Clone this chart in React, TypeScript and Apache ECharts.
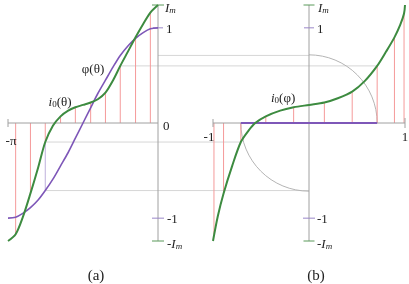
import React, { useEffect, useRef } from 'react';
import * as echarts from 'echarts';

// ---- data ----
const IM = 1.24;
// panel (a): theta samples, phi(theta) and i0(theta)
const THETA = [-3.14, -2.98, -2.83, -2.67, -2.51, -2.36, -2.2, -2.04, -1.88, -1.73, -1.57, -1.41, -1.26, -1.1, -0.94, -0.79, -0.63, -0.47, -0.31, -0.16, 0];
const PHI_OF_THETA = [-1, -0.99, -0.95, -0.89, -0.81, -0.71, -0.59, -0.45, -0.31, -0.16, 0, 0.16, 0.31, 0.45, 0.59, 0.71, 0.81, 0.89, 0.95, 0.99, 1];
const I0_OF_THETA = [-1.24, -1.17, -0.99, -0.74, -0.47, -0.2, -0.03, 0.07, 0.13, 0.165, 0.19, 0.215, 0.25, 0.32, 0.45, 0.6, 0.75, 0.9, 1.04, 1.16, 1.24];
// panel (b): i0(phi)
const PHI_B = [-1, -0.95, -0.89, -0.8, -0.71, -0.63, -0.56, -0.45, -0.3, -0.16, 0, 0.16, 0.3, 0.45, 0.58, 0.71, 0.8, 0.89, 0.95, 0.99, 1];
const I0_B = [-1.24, -0.98, -0.74, -0.45, -0.2, -0.08, 0, 0.07, 0.13, 0.165, 0.19, 0.215, 0.26, 0.33, 0.44, 0.6, 0.745, 0.9, 1.03, 1.15, 1.24];
// red stems
const THETA_STEMS = [-2.98, -2.67, -2.36, -2.04, -1.73, -1.41, -1.1, -0.79, -0.47, -0.16];
const PHI_STEMS = [-0.99, -0.89, -0.71, -0.45, -0.16, 0.16, 0.45, 0.71, 0.89, 0.99];
const I0_STEMS = [-1.17, -0.74, -0.2, 0.07, 0.165, 0.215, 0.32, 0.6, 0.9, 1.16];
// purple flat segment in (b)
const PHI_FLAT = [-0.71, 0.71];
const FLAT_VALUE = [0, 0];
// construction indices (stems used for the graphic construction)
const LOW_IDX = 2;
const HIGH_IDX = 7;

const GREEN = '#3d8b40';
const PURPLE = '#7e57b8';
const RED = '#f59a9a';
const AXIS = '#a0a0a0';
const GUIDE = '#d6d6d6';
const ARC = '#b4b4b4';
const TICK_PURPLE = '#9a86c8';
const TICK_GREEN = '#5a9a5a';
const LIGHT_PURPLE = '#bfb0dc';
const FONT = 'Liberation Serif';
const TXT = '#222';

export default function App() {
  const ref = useRef<HTMLDivElement>(null);
  useEffect(() => {
    const chart = echarts.init(ref.current!, null, { renderer: 'svg' });
    const stem = (idx: number, xs: number[], ys: number[]) => ({
      type: 'custom',
      xAxisIndex: idx,
      yAxisIndex: idx,
      z: 1,
      silent: true,
      data: xs.map((x, i) => [x, ys[i]]),
      renderItem: (_p: any, api: any) => {
        const a = api.coord([api.value(0), 0]);
        const b = api.coord([api.value(0), api.value(1)]);
        return {
          type: 'line',
          shape: { x1: a[0], y1: a[1], x2: b[0], y2: b[1] },
          style: { stroke: RED, lineWidth: 1 },
        };
      },
    });
    const line = (idx: number, xs: number[], ys: number[], color: string, w: number, smooth: number) => ({
      type: 'line',
      xAxisIndex: idx,
      yAxisIndex: idx,
      z: 3,
      silent: true,
      showSymbol: false,
      smooth,
      data: xs.map((x, i) => [x, ys[i]]),
      lineStyle: { color, width: w },
    });
    chart.setOption({
      animation: false,
      grid: [
        { left: 8, top: 5, width: 150, height: 236 },
        { left: 213, top: 5, width: 192, height: 236 },
      ],
      xAxis: [
        { type: 'value', gridIndex: 0, min: -3.14, max: 0, show: false },
        { type: 'value', gridIndex: 1, min: -1, max: 1, show: false },
      ],
      yAxis: [
        { type: 'value', gridIndex: 0, min: -IM, max: IM, show: false },
        { type: 'value', gridIndex: 1, min: -IM, max: IM, show: false },
      ],
      series: [
        stem(0, THETA_STEMS, I0_STEMS),
        stem(1, PHI_STEMS, I0_STEMS),
        line(0, THETA, PHI_OF_THETA, PURPLE, 1.6, 0.3),
        line(0, THETA, I0_OF_THETA, GREEN, 2, 0.3),
        line(1, PHI_FLAT, FLAT_VALUE, PURPLE, 2, 0),
        line(1, PHI_B, I0_B, GREEN, 2, 0.3),
      ],
    });

    const pA = (x: number, y: number) => chart.convertToPixel({ xAxisIndex: 0, yAxisIndex: 0 }, [x, y]) as number[];
    const pB = (x: number, y: number) => chart.convertToPixel({ xAxisIndex: 1, yAxisIndex: 1 }, [x, y]) as number[];
    const seg = (a: number[], b: number[], stroke: string, lineWidth = 1, z = 0) => ({
      type: 'line',
      z,
      silent: true,
      shape: { x1: a[0], y1: a[1], x2: b[0], y2: b[1] },
      style: { stroke, lineWidth },
    });
    const hTick = (p: number[], half: number, stroke: string) => seg([p[0] - half, p[1]], [p[0] + half, p[1]], stroke, 1, 1);
    const vTick = (p: number[], half: number) => seg([p[0], p[1] - half], [p[0], p[1] + half], AXIS, 1, 1);
    const rich = {
      it: { fontFamily: FONT, fontStyle: 'italic', fontSize: 13, fill: TXT, color: TXT },
      sub: { fontFamily: FONT, fontStyle: 'italic', fontSize: 9, fill: TXT, color: TXT, verticalAlign: 'bottom', padding: [5, 0, 0, 0] },
      subr: { fontFamily: FONT, fontSize: 9, fill: TXT, color: TXT, verticalAlign: 'bottom', padding: [5, 0, 0, 0] },
      n: { fontFamily: FONT, fontSize: 13, fill: TXT, color: TXT },
      c: { fontFamily: FONT, fontSize: 15, fill: TXT, color: TXT },
    };
    const text = (p: number[], t: string, align: string) => ({
      type: 'text',
      z: 10,
      silent: true,
      x: p[0],
      y: p[1],
      style: {
        text: t,
        rich,
        font: `13px "${FONT}"`,
        fill: TXT,
        textAlign: align,
        align,
        textVerticalAlign: 'middle',
        verticalAlign: 'middle',
      },
    });
    const off = (p: number[], dx: number, dy: number) => [p[0] + dx, p[1] + dy];

    const o = pB(0, 0);
    const r = pB(PHI_STEMS[HIGH_IDX], 0)[0] - o[0];
    const thLow = THETA_STEMS[LOW_IDX];
    const thHigh = THETA_STEMS[HIGH_IDX];
    const phiHi = PHI_OF_THETA[15];
    const phiLo = PHI_OF_THETA[5];

    const g: any[] = [
      // construction guides
      seg(pA(0, phiHi), pB(0, phiHi), GUIDE),
      seg(pA(thHigh, I0_STEMS[HIGH_IDX]), pB(PHI_STEMS[HIGH_IDX], I0_STEMS[HIGH_IDX]), GUIDE),
      seg(pA(thLow, phiLo), pB(0, phiLo), GUIDE),
      seg(pA(thLow, I0_STEMS[LOW_IDX]), pB(PHI_STEMS[LOW_IDX], I0_STEMS[LOW_IDX]), GUIDE),
      seg(pA(thLow, I0_STEMS[LOW_IDX]), pA(thLow, phiLo), LIGHT_PURPLE),
      {
        type: 'arc', z: 0, silent: true,
        shape: { cx: o[0], cy: o[1], r, startAngle: -Math.PI / 2, endAngle: 0, clockwise: true },
        style: { stroke: ARC, fill: 'none', lineWidth: 1 },
      },
      {
        type: 'arc', z: 0, silent: true,
        shape: { cx: o[0], cy: o[1], r, startAngle: Math.PI / 2, endAngle: Math.PI, clockwise: true },
        style: { stroke: ARC, fill: 'none', lineWidth: 1 },
      },
      // axes (a)
      seg(pA(-3.14, 0), pA(0, 0), AXIS, 1, 1),
      vTick(pA(-3.14, 0), 4),
      seg(pA(0, -IM), pA(0, IM), AXIS, 1, 1),
      hTick(pA(0, IM), 6, TICK_GREEN),
      hTick(pA(0, -IM), 6, TICK_GREEN),
      hTick(pA(0, 1), 5, TICK_PURPLE),
      hTick(pA(0, -1), 6, TICK_PURPLE),
      // axes (b)
      seg(pB(-1, 0), pB(1, 0), AXIS, 1, 1),
      vTick(pB(-1, 0), 4),
      vTick(pB(1, 0), 5),
      seg(pB(0, -IM), pB(0, IM), AXIS, 1, 1),
      hTick(pB(0, IM), 5.5, TICK_GREEN),
      hTick(pB(0, -IM), 5.5, TICK_GREEN),
      hTick(pB(0, 1), 5, TICK_PURPLE),
      hTick(pB(0, -1), 6, TICK_PURPLE),
      // labels (a)
      text(off(pA(0, IM), 7, 2), '{it|I}{sub|m}', 'left'),
      text(off(pA(0, 1), 8, 1), '{n|1}', 'left'),
      text(off(pA(0, 0), 5, 2), '{n|0}', 'left'),
      text(off(pA(0, -1), 9, 0), '{n|-1}', 'left'),
      text(off(pA(0, -IM), 9, 2), '{n|-}{it|I}{sub|m}', 'left'),
      text(off(pA(-3.14, 0), 3, 17), '{n|-π}', 'center'),
      text(pA(-1.36, 0.57), '{n|φ(θ)}', 'center'),
      text(pA(-2.05, 0.23), '{it|i}{subr|0}{n|(θ)}', 'center'),
      // labels (b)
      text(off(pB(0, IM), 9, 2), '{it|I}{sub|m}', 'left'),
      text(off(pB(0, 1), 8, 1), '{n|1}', 'left'),
      text(off(pB(0, -1), 8, 0), '{n|-1}', 'left'),
      text(off(pB(0, -IM), 8, 2), '{n|-}{it|I}{sub|m}', 'left'),
      text(off(pB(-1, 0), -4, 13), '{n|-1}', 'center'),
      text(off(pB(1, 0), 0, 13), '{n|1}', 'center'),
      text(pB(-0.27, 0.27), '{it|i}{subr|0}{n|(φ)}', 'center'),
      // captions
      text([96, 275], '{c|(a)}', 'center'),
      text([316, 275], '{c|(b)}', 'center'),
    ];
    chart.setOption({ graphic: g });
    return () => chart.dispose();
  }, []);
  return <div ref={ref} style={{ position: 'fixed', left: 0, top: 0, width: 409, height: 284 }} />;
}
